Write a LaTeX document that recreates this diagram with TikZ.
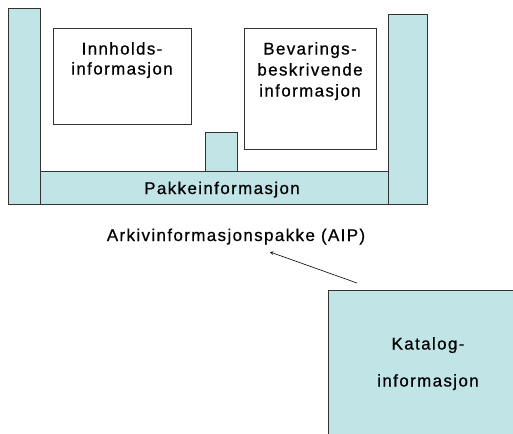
\documentclass[tikz,border=0pt]{standalone}
\usepackage{fontspec}
\setmainfont{Liberation Sans}[LetterSpace=8, FakeBold=0.6]
\usetikzlibrary{positioning,arrows}
\definecolor{aipfill}{RGB}{193,228,230}

\begin{document}
\begin{tikzpicture}[x=1pt,y=-1pt,
                every node/.style = {font=\fontsize{17}{21}\selectfont, inner sep=0pt},
                part/.style = {draw=black!80, line width=0.8pt, fill=aipfill, anchor=north west},
                info/.style = {draw=black!80, line width=0.8pt, fill=white, anchor=north west, align=center}]
                \useasboundingbox (0,0) rectangle (513,433);
                \node[part, minimum width=32pt, minimum height=196pt] (LP) at (8,8) {};
                \node[part, minimum width=39pt, minimum height=190pt] (RP) at (388,14) {};
                \node[part, minimum width=348pt, minimum height=33pt] (PI) at (40,171) {};
                \node[anchor=base] at (222,194) {Pakkeinformasjon};
                \node[part, minimum width=32pt, minimum height=39pt] (SB) at (205,132) {};
                \node[info, minimum width=138pt, minimum height=96pt] (II) at (53,28) {};
                \node[anchor=north, align=center, font=\fontsize{17}{20}\selectfont] at (122,42) {Innholds-\\informasjon};
                \node[info, minimum width=132pt, minimum height=121pt] (BI) at (244,28) {};
                \node[anchor=north, align=center] at (310,42) {Bevarings-\\beskrivende\\informasjon};
                \node[anchor=base] (AIP) at (236,241) {Arkivinformasjonspakke (AIP)};
                \node[part, minimum width=190pt, minimum height=150pt] (KI) at (328,290) {};
                \node[anchor=north, align=center, font=\fontsize{17}{37}\selectfont] at (428,337) {Katalog-\\informasjon};
                \coordinate (KT) at (357,283);
                \draw[->, >=stealth, line width=0.6pt] (KT) -- (270,252);
            \end{tikzpicture}
\end{document}
